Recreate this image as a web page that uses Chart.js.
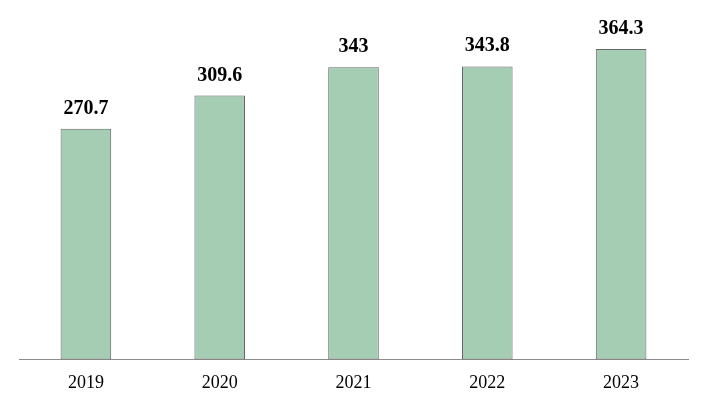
<!DOCTYPE html>
<html>
<head>
<meta charset="utf-8">
<script src="https://cdn.jsdelivr.net/npm/chart.js@4.4.0/dist/chart.umd.min.js"></script>
<style>
  html, body { margin: 0; padding: 0; background: #ffffff; }
  #wrap { width: 706px; height: 410px; }
</style>
</head>
<body>
<div id="wrap"><canvas id="myChart" width="706" height="410"></canvas></div>
<script>
var years = ['2019', '2020', '2021', '2022', '2023'];
var values = [270.7, 309.6, 343, 343.8, 364.3];

// nhãn giá trị trên đầu cột
var valueLabels = {
  id: 'valueLabels',
  afterDatasetsDraw: function (chart) {
    var ctx = chart.ctx;
    var meta = chart.getDatasetMeta(0);
    ctx.save();
    ctx.font = 'bold 20px "Liberation Serif", "Times New Roman", serif';
    ctx.fillStyle = '#000000';
    ctx.textAlign = 'center';
    ctx.textBaseline = 'alphabetic';
    meta.data.forEach(function (bar, i) {
      ctx.fillText(String(values[i]), bar.x, bar.y - 15);
    });
    ctx.restore();
  }
};

var ctx = document.getElementById('myChart').getContext('2d');
var myChart = new Chart(ctx, {
  type: 'bar',
  data: {
    labels: years,
    datasets: [{
      data: values,
      backgroundColor: '#a4cdb4',
      borderColor: '#666666',
      borderWidth: 1,
      borderSkipped: false,
      categoryPercentage: 1,
      barPercentage: 0.378
    }]
  },
  options: {
    responsive: false,
    animation: false,
    layout: {
      padding: { left: 19, right: 18, top: 18.6, bottom: 3 }
    },
    plugins: {
      legend: { display: false },
      tooltip: { enabled: false }
    },
    scales: {
      x: {
        grid: { display: false, drawTicks: false },
        border: { display: true, color: '#8c8c8c', width: 1 },
        ticks: {
          color: '#000000',
          padding: 13,
          font: { family: '"Liberation Serif", "Times New Roman", serif', size: 18 }
        }
      },
      y: {
        display: false,
        min: 0,
        max: 400
      }
    }
  },
  plugins: [valueLabels]
});
</script>
</body>
</html>
